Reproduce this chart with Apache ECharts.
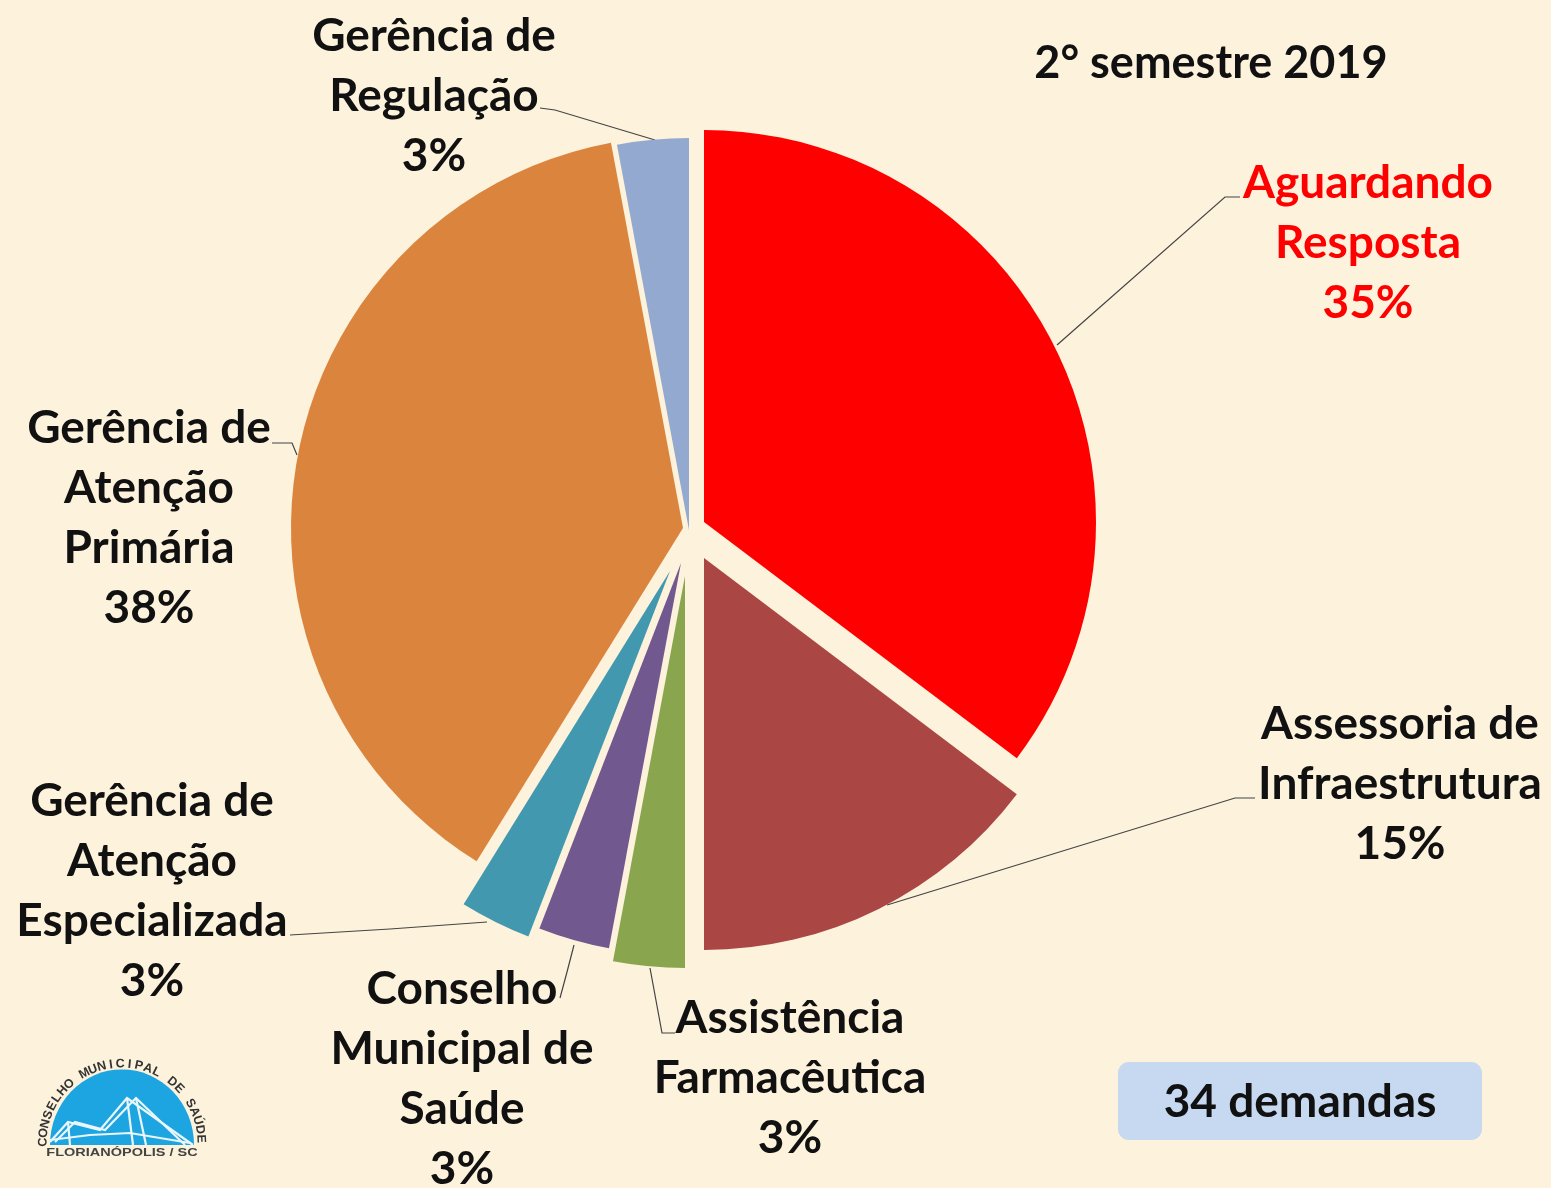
<!DOCTYPE html>
<html><head><meta charset="utf-8">
<script src="https://cdn.jsdelivr.net/npm/echarts@6/dist/echarts.min.js"></script>
<style>html,body{margin:0;padding:0;background:#FDF2DC}#c{width:1551px;height:1188px}</style>
</head><body><div id="c"></div>
<script>
const categories = ["Aguardando\nResposta","Assessoria de\nInfraestrutura","Assistência\nFarmacêutica","Conselho\nMunicipal de\nSaúde","Gerência de\nAtenção\nEspecializada","Gerência de\nAtenção\nPrimária","Gerência de\nRegulação"];
const values = [12,5,1,1,1,13,1];
const colors = ["#FF0000","#AA4643","#89A54E","#71588F","#4198AF","#DB843D","#93A9CF"];
const labelColors = ["#FF0000","#111","#111","#111","#111","#111","#111"];
const sliceCenters = [[704,522],[704,558],[685,576],[681,563],[670,571],[683,528],[689,530]];
const labelCenters = [[1368,243],[1400,784],[790,1078],[462,1079],[152,891],[149,518],[434,96]];
const leaderLines = [
 [[1057,345],[1225,197],[1240,197]],
 [[887,905],[1235,798],[1255,798]],
 [[650,968],[662,1033],[675,1033]],
 [[574,945],[567,972],[560,998]],
 [[487,922],[390,929],[290,935]],
 [[297,455],[292,443],[272,443]],
 [[655,140],[555,110],[540,108]]
];
const semester = "2° semestre 2019";
const demandas = "34 demandas";
const logoArc = "CONSELHO MUNICIPAL DE SAÚDE";
const logoBase = "FLORIANÓPOLIS / SC";
const FONT = "Lato";
const total = values.reduce((a,b)=>a+b,0);

const series = values.map((_,i)=>({
  type:'pie', silent:true, animation:false, center:sliceCenters[i], radius:[0,392],
  startAngle:90, clockwise:true, avoidLabelOverlap:false, minAngle:0,
  data: values.map((v,j)=>({
    name:categories[j], value:v,
    itemStyle:{color:j===i?colors[j]:'transparent',borderWidth:0},
    label:{show:j===i},
    labelLine:{show:j===i}
  })),
  emphasis:{disabled:true},
  label:{position:'outside',formatter:p=>p.name+"\n"+Math.round(p.value/total*100)+"%",
    fontFamily:FONT,fontWeight:'bold',fontSize:46,lineHeight:60,color:labelColors[i],align:'center'},
  labelLine:{show:true,lineStyle:{color:'#444',width:1.2}},
  labelLayout:()=>({x:labelCenters[i][0],y:labelCenters[i][1],align:'center',verticalAlign:'middle',labelLinePoints:leaderLines[i]})
}));

const arcChars = [...logoArc];
const logoCx=122, logoCy=1143, logoR=79;
const arcEls = arcChars.map((ch,i)=>{
  const a = -Math.PI/2 + Math.PI*(i/(arcChars.length-1))*0.98 + 0.01;
  return {type:'text',silent:true,x:logoCx+logoR*Math.sin(a),y:logoCy-logoR*Math.cos(a),rotation:-a,z:5,
    style:{text:ch,fontFamily:'Liberation Sans',fontWeight:'bold',fontSize:12.5,fill:'#333',align:'center',verticalAlign:'middle'}};
});
const white = {stroke:'#EAF6FB',lineWidth:2.2,fill:null};
const graphic = [
  {type:'text',silent:true,x:1211,y:63,style:{text:semester,fontFamily:FONT,fontWeight:'bold',fontSize:45,fill:'#111',align:'center',verticalAlign:'middle'}},
  {type:'rect',silent:true,shape:{x:1118,y:1062,width:364,height:78,r:11},style:{fill:'#C6D9F1'}},
  {type:'text',silent:true,x:1300,y:1102,style:{text:demandas,fontFamily:FONT,fontWeight:'bold',fontSize:46,fill:'#111',align:'center',verticalAlign:'middle'}},
  {type:'sector',silent:true,originX:122,originY:1145,scaleY:1.05,shape:{cx:122,cy:1145,r:72,startAngle:Math.PI,endAngle:2*Math.PI},style:{fill:'#1CA5E0'}},
  {type:'polyline',silent:true,shape:{points:[[50,1142],[68,1122],[100,1130],[127,1098],[193,1145]]},style:white},
  {type:'polyline',silent:true,shape:{points:[[55,1142],[75,1122],[105,1130],[136,1098],[185,1145]]},style:white},
  {type:'polyline',silent:true,shape:{points:[[50,1140],[90,1135],[130,1133],[190,1143]]},style:white},
  {type:'line',silent:true,shape:{x1:68,y1:1122,x2:70,y2:1145},style:{stroke:'#EAF6FB',lineWidth:2.2}},
  {type:'line',silent:true,shape:{x1:127,y1:1098,x2:133,y2:1145},style:{stroke:'#EAF6FB',lineWidth:2.2}},
  {type:'line',silent:true,shape:{x1:136,y1:1098,x2:146,y2:1145},style:{stroke:'#EAF6FB',lineWidth:2.2}},
  {type:'text',silent:true,x:122,y:1153,scaleX:1.38,style:{text:logoBase,fontFamily:'Liberation Sans',fontWeight:'bold',fontSize:10.5,fill:'#444',align:'center',verticalAlign:'middle'}},
  ...arcEls
];
const chart = echarts.init(document.getElementById('c'),null,{renderer:'canvas'});
chart.setOption({backgroundColor:'#FDF2DC',animation:false,tooltip:{show:false},legend:{show:false},series,graphic});
</script></body></html>
